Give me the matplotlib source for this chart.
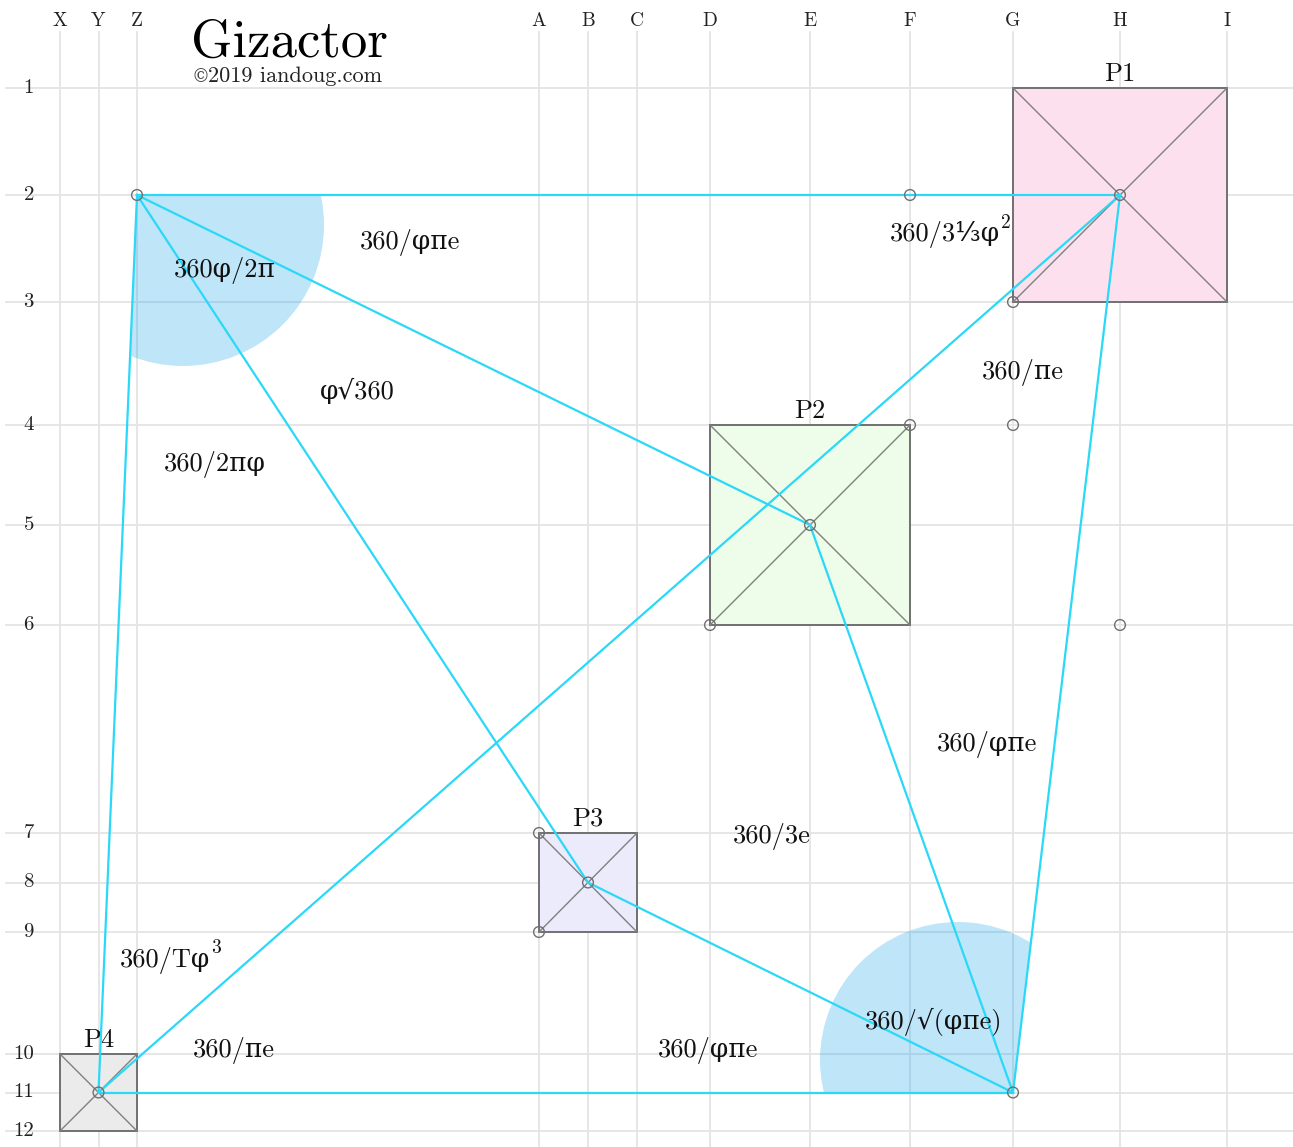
import matplotlib
matplotlib.use('Agg')
from matplotlib import pyplot as plt
from matplotlib.patches import Polygon, Circle

# grid: column letters and row numbers with their positions
cols = ['X', 'Y', 'Z', 'A', 'B', 'C', 'D', 'E', 'F', 'G', 'H', 'I']
col_x = [60, 98.5, 137, 539, 588, 637, 710, 810, 910, 1013, 1120, 1227]
rows = ['1', '2', '3', '4', '5', '6', '7', '8', '9', '10', '11', '12']
row_y = [88, 195, 302, 425, 525, 625, 833, 882.5, 932, 1054, 1092.5, 1131]

# pyramids: name, corner cells, fill
pyr_names = ['P1', 'P2', 'P3', 'P4']
pyr_corners = [('G', '1', 'I', '3'), ('D', '4', 'F', '6'), ('A', '7', 'C', '9'), ('X', '10', 'Z', '12')]
pyr_fill = ['#fde0ee', '#edfdea', '#ebebfc', '#ebebeb']

nodes = ['Z2', 'F2', 'H2', 'G3', 'F4', 'G4', 'E5', 'D6', 'H6', 'A7', 'B8', 'A9', 'Y11', 'G11']
links = [('Z2', 'H2'), ('Z2', 'Y11'), ('Z2', 'E5'), ('Z2', 'B8'), ('Y11', 'G11'),
         ('Y11', 'H2'), ('G11', 'H2'), ('G11', 'E5'), ('G11', 'B8')]
outline = ['Z2', 'H2', 'G11', 'Y11']

# angle labels; the exponent is drawn as a separate small text
angle_labels = ['360/φπe', '360/3⅓φ', '360φ/2π', 'φ√360', '360/πe', '360/2πφ',
                '360/φπe', '360/3e', '360/Tφ', '360/√(φπe)', '360/πe', '360/φπe']
angle_sups = ['', '2', '', '', '', '', '', '', '3', '', '', '']
angle_xy = [(410, 242), (945, 235), (225, 270), (357, 391), (1023, 373), (215, 465),
            (987, 744), (772, 837), (165, 960), (934, 1022), (234, 1050), (708, 1050)]

# shaded angle sectors: centre and radius in chart units
sectors = [((183, 225), 141), ((958, 1060), 138)]

cx = dict(zip(cols, col_x))
ry = dict(zip(rows, row_y))


def pt(ref):
    return cx[ref[0]], ry[ref[1:]]


plt.rcParams['font.family'] = ['cmr10', 'DejaVu Serif', 'DejaVu Sans']
plt.rcParams['axes.unicode_minus'] = False

fig = plt.figure(figsize=(12.93, 11.47), dpi=100)
ax = fig.add_axes([0, 0, 1, 1])
ax.set_xlim(0, 1293)
ax.set_ylim(1147, 0)
ax.axis('off')

grid_kw = dict(color='#e4e4e4', linewidth=1.3, zorder=0)
for c, x in zip(cols, col_x):
    ax.plot([x, x], [32, 1147], **grid_kw)
    ax.text(x, 21, c, ha='center', va='center', fontsize=14, color='#222222')
for r, y in zip(rows, row_y):
    ax.plot([6, 1293], [y, y], **grid_kw)
    ax.text(34, y, r, ha='right', va='center', fontsize=15, color='#222222')

outer = Polygon([pt(n) for n in outline], closed=True, transform=ax.transData)
for (x, y), rad in sectors:
    sec = Circle((x, y), rad, facecolor='#0099ea', alpha=0.25, edgecolor='none', zorder=1)
    ax.add_patch(sec)
    sec.set_clip_path(outer)

for name, (c0, r0, c1, r1), fill in zip(pyr_names, pyr_corners, pyr_fill):
    x0, x1, y0, y1 = cx[c0], cx[c1], ry[r0], ry[r1]
    ax.add_patch(Polygon([(x0, y0), (x1, y0), (x1, y1), (x0, y1)], closed=True,
                         facecolor=fill, edgecolor='#707070', linewidth=1.4, zorder=2))
    ax.plot([x0, x1], [y0, y1], color='#808080', linewidth=1.0, zorder=2.5)
    ax.plot([x1, x0], [y0, y1], color='#808080', linewidth=1.0, zorder=2.5)
    ax.text((x0 + x1) / 2, y0 - 2, name, ha='center', va='bottom', fontsize=19, color='#111111')

for a, b in links:
    (xa, ya), (xb, yb) = pt(a), pt(b)
    ax.plot([xa, xb], [ya, yb], color='#2ad8f8', linewidth=1.6, zorder=3)

ax.scatter([pt(n)[0] for n in nodes], [pt(n)[1] for n in nodes], s=60, facecolors='none',
           edgecolors='#707070', linewidths=1.0, zorder=4)

for txt, sup, (x, y) in zip(angle_labels, angle_sups, angle_xy):
    t = ax.text(x, y, txt, ha='center', va='center', fontsize=19, color='#111111', zorder=5)
    if sup:
        ax.annotate(sup, xy=(1, 0.6), xycoords=t, xytext=(0.5, 0), textcoords='offset points',
                    ha='left', va='bottom', fontsize=14, color='#111111', zorder=5)

ax.text(191, 57, 'Gizactor', ha='left', va='baseline', fontsize=38, color='#000000')
ax.text(191, 82, '©', ha='left', va='baseline', fontsize=13, color='#444444',
        family=['DejaVu Serif'])
ax.text(208, 82, '2019 iandoug.com', ha='left', va='baseline', fontsize=16, color='#222222')

fig.savefig('out.png', dpi=100)
